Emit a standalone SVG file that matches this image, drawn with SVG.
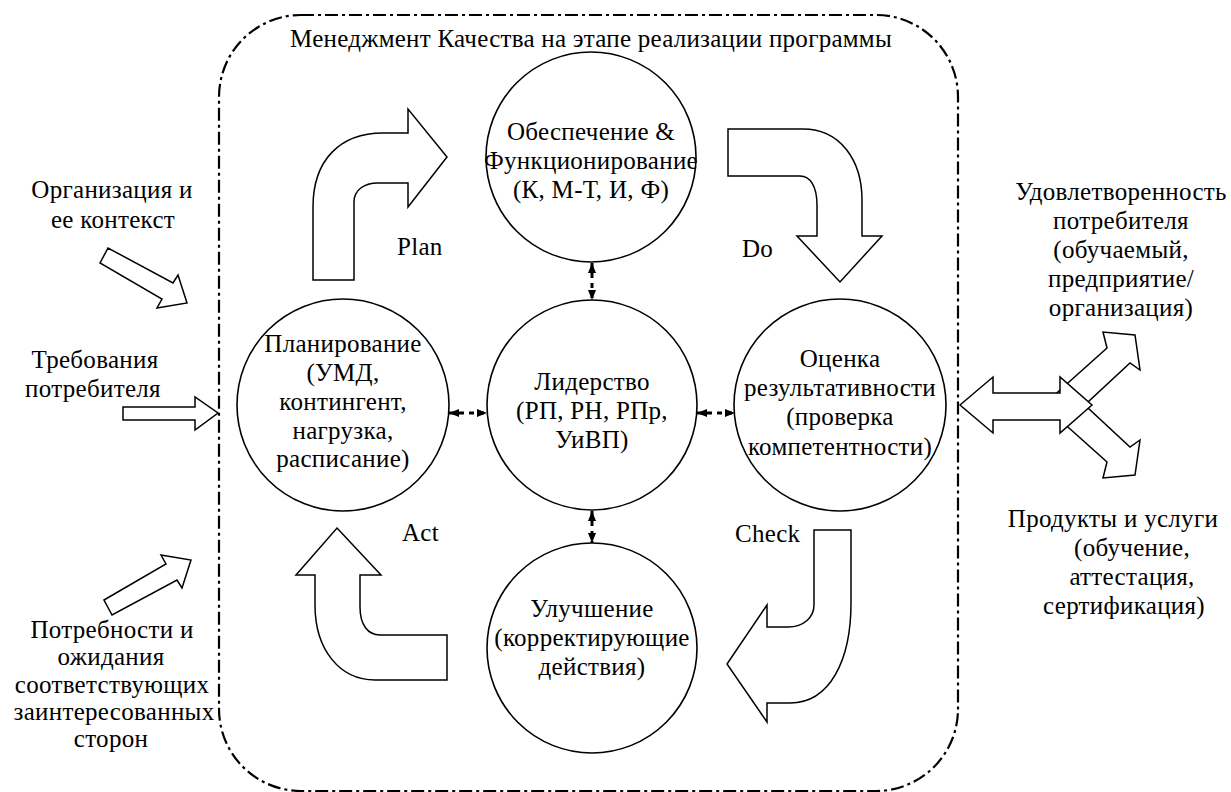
<svg xmlns="http://www.w3.org/2000/svg" width="1231" height="792" viewBox="0 0 1231 792">
<style>
text{font-family:'Liberation Serif','DejaVu Serif',serif;font-size:25px;letter-spacing:0.3px;fill:#000}
.c{text-anchor:middle}
.circ{fill:#fff;stroke:#000;stroke-width:1.6}
.blk{fill:#fff;stroke:#000;stroke-width:1.5;stroke-linejoin:miter}
.link{stroke:#000;stroke-width:3;stroke-dasharray:5 5;fill:none}
.frame{fill:none;stroke:#000;stroke-width:2.2;stroke-dasharray:13 4 3 4}
</style>
<defs>
<marker id="ah" viewBox="0 0 10 8" refX="10" refY="4" markerWidth="10" markerHeight="8" markerUnits="userSpaceOnUse" orient="auto-start-reverse">
<path d="M0,0 L10,4 L0,8 Z" fill="#000"/>
</marker>
</defs>
<rect width="1231" height="792" fill="#fff"/>
<g font-family="Liberation Serif, DejaVu Serif, serif">
<rect id="frame" class="frame" x="219" y="15" width="739" height="776" rx="82" ry="82"/>
<text id="title" x="290" y="47" textLength="602" lengthAdjust="spacing">Менеджмент Качества на этапе реализации программы</text>

<g id="connectors">
<line class="link" x1="592" y1="263" x2="592" y2="300" marker-start="url(#ah)" marker-end="url(#ah)"/>
<line class="link" x1="592" y1="511" x2="592" y2="543" marker-start="url(#ah)" marker-end="url(#ah)"/>
<line class="link" x1="449" y1="413" x2="487" y2="413" marker-start="url(#ah)" marker-end="url(#ah)"/>
<line class="link" x1="697" y1="413" x2="735" y2="413" marker-start="url(#ah)" marker-end="url(#ah)"/>
</g>

<g id="arrow-plan">
<path class="blk" d="M313,280 L354,280 L354,202 C354,190 364,183 378,183 L408,183 L408,207 L447,157 L408,109 L408,133 L383,133 C340,133 313,160 313,207 Z"/>
<text x="397" y="255">Plan</text>
</g>
<g id="arrow-do">
<path class="blk" d="M728,129 L803,129 C840,129 862,160 862,200 L862,236 L882,236 L840,282 L797,236 L817,236 L817,205 C817,186 810,176 800,176 L728,176 Z"/>
<text x="742" y="257">Do</text>
</g>
<g id="arrow-check">
<path class="blk" d="M814,530 L851,530 L851,603 C851,660 830,703 790,703 L767,703 L767,722 L727,664 L767,605 L767,627 L788,627 C804,627 814,617 814,605 Z"/>
<text x="735" y="542">Check</text>
</g>
<g id="arrow-act">
<path class="blk" d="M337,528 L381,575 L360,575 L360,607 C360,625 368,635 380,635 L447,635 L447,680 L375,680 C340,680 315,650 315,605 L315,575 L296,575 Z"/>
<text x="402" y="541">Act</text>
</g>

<g id="node-top">
<circle class="circ" cx="591" cy="157" r="105"/>
<text class="c" x="591" y="140">Обеспечение &amp;</text>
<text class="c" x="591" y="169">Функционирование</text>
<text class="c" x="591" y="198">(К, М-Т, И, Ф)</text>
</g>
<g id="node-center">
<circle class="circ" cx="592" cy="405" r="105"/>
<text class="c" x="592" y="390">Лидерство</text>
<text class="c" x="592" y="419">(РП, РН, РПр,</text>
<text class="c" x="592" y="448">УиВП)</text>
</g>
<g id="node-left">
<circle class="circ" cx="343" cy="405" r="106"/>
<text class="c" x="343" y="352">Планирование</text>
<text class="c" x="343" y="381">(УМД,</text>
<text class="c" x="343" y="410">контингент,</text>
<text class="c" x="343" y="439">нагрузка,</text>
<text class="c" x="343" y="467">расписание)</text>
</g>
<g id="node-right">
<circle class="circ" cx="840" cy="405" r="106"/>
<text class="c" x="840" y="367">Оценка</text>
<text class="c" x="840" y="396">результативности</text>
<text class="c" x="840" y="425">(проверка</text>
<text class="c" x="840" y="455">компетентности)</text>
</g>
<g id="node-bottom">
<circle class="circ" cx="592" cy="648" r="105"/>
<text class="c" x="592" y="617">Улучшение</text>
<text class="c" x="592" y="646">(корректирующие</text>
<text class="c" x="592" y="675">действия)</text>
</g>

<g id="input-org">
<path class="blk" d="M100,263 L108,248 L173,283 L178,275 L187,303 L157,308 L162,299 Z"/>
<text class="c" x="112" y="198">Организация и</text>
<text class="c" x="113" y="228">ее контекст</text>
</g>
<g id="input-req">
<path class="blk" d="M123,407 L195,407 L195,397 L218,413 L195,430 L195,420 L123,420 Z"/>
<text class="c" x="95" y="368">Требования</text>
<text class="c" x="93" y="397">потребителя</text>
</g>
<g id="input-needs">
<path class="blk" d="M104,600 L166,564 L161,555 L191,560 L182,588 L177,580 L112,615 Z"/>
<text class="c" x="112" y="638">Потребности и</text>
<text class="c" x="111" y="665">ожидания</text>
<text class="c" x="112" y="693">соответствующих</text>
<text class="c" x="114" y="720">заинтересованных</text>
<text class="c" x="111" y="747">сторон</text>
</g>

<g id="output-arrows">
<path class="blk" d="M1050,399 L1107,348 L1103,332 L1135,335 L1140,370 L1130,363 L1075,414 Z"/>
<path class="blk" d="M1050,411 L1107,462 L1103,478 L1135,475 L1140,440 L1130,447 L1075,396 Z"/>
<path class="blk" d="M960,405 L993,377 L993,393 L1060,393 L1060,377 L1092,405 L1060,433 L1060,420 L993,420 L993,433 Z"/>
</g>
<g id="output-satisfaction">
<text class="c" x="1121" y="200">Удовлетворенность</text>
<text class="c" x="1121" y="229">потребителя</text>
<text class="c" x="1121" y="258">(обучаемый,</text>
<text class="c" x="1121" y="287">предприятие/</text>
<text class="c" x="1121" y="316">организация)</text>
</g>
<g id="output-products">
<text class="c" x="1113" y="527">Продукты и услуги</text>
<text class="c" x="1132" y="556">(обучение,</text>
<text class="c" x="1132" y="585">аттестация,</text>
<text class="c" x="1124" y="614">сертификация)</text>
</g>
</g>
</svg>
